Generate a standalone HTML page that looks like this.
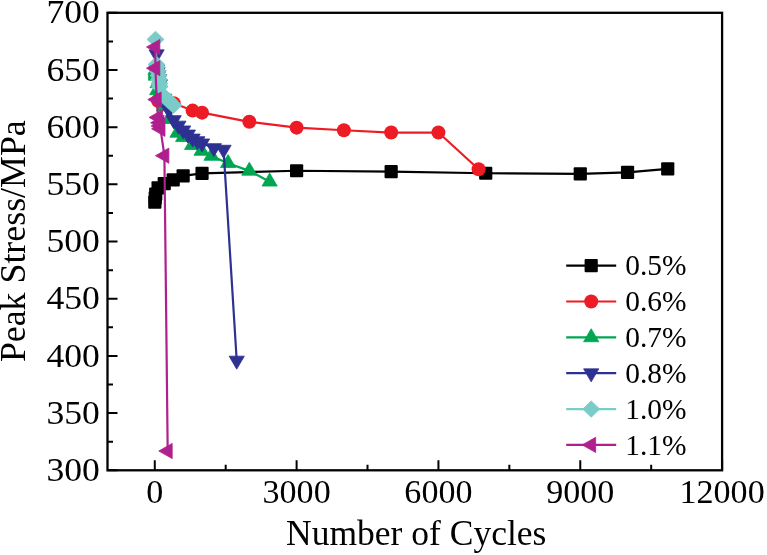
<!DOCTYPE html>
<html><head><meta charset="utf-8"><title>Peak Stress vs Number of Cycles</title>
<style>html,body{margin:0;padding:0;background:#fff;}body{width:767px;height:555px;overflow:hidden;font-family:"Liberation Serif",serif;}</style></head>
<body>
<svg width="767" height="555" viewBox="0 0 767 555" style="display:block;will-change:transform;opacity:0.999">
<rect width="767" height="555" fill="#ffffff"/>
<path d="M154.82,202.09 L155.25,198.09 L155.72,194.08 L158.09,187.79 L164.23,183.68 L173.21,179.90 L183.14,175.90 L202.05,173.38 L296.61,170.75 L391.16,171.55 L485.72,173.27 L580.27,173.95 L627.55,172.47 L667.73,168.92" fill="none" stroke="#000000" stroke-width="2.2" stroke-linejoin="round"/>
<rect x="148.22" y="195.49" width="13.2" height="13.2" rx="1" fill="#000000"/>
<rect x="148.65" y="191.49" width="13.2" height="13.2" rx="1" fill="#000000"/>
<rect x="149.12" y="187.48" width="13.2" height="13.2" rx="1" fill="#000000"/>
<rect x="151.49" y="181.19" width="13.2" height="13.2" rx="1" fill="#000000"/>
<rect x="157.63" y="177.08" width="13.2" height="13.2" rx="1" fill="#000000"/>
<rect x="166.61" y="173.30" width="13.2" height="13.2" rx="1" fill="#000000"/>
<rect x="176.54" y="169.30" width="13.2" height="13.2" rx="1" fill="#000000"/>
<rect x="195.45" y="166.78" width="13.2" height="13.2" rx="1" fill="#000000"/>
<rect x="290.01" y="164.15" width="13.2" height="13.2" rx="1" fill="#000000"/>
<rect x="384.56" y="164.95" width="13.2" height="13.2" rx="1" fill="#000000"/>
<rect x="479.12" y="166.67" width="13.2" height="13.2" rx="1" fill="#000000"/>
<rect x="573.67" y="167.35" width="13.2" height="13.2" rx="1" fill="#000000"/>
<rect x="620.95" y="165.87" width="13.2" height="13.2" rx="1" fill="#000000"/>
<rect x="661.13" y="162.32" width="13.2" height="13.2" rx="1" fill="#000000"/>
<path d="M158.00,100.80 L158.50,100.50 L159.50,99.72 L164.23,100.30 L173.69,103.16 L192.60,110.59 L202.05,112.65 L249.33,121.80 L296.61,127.63 L343.88,130.26 L391.16,132.55 L438.44,132.55 L478.62,169.26" fill="none" stroke="#ed1c24" stroke-width="2.2" stroke-linejoin="round"/>
<circle cx="158.00" cy="100.80" r="7" fill="#ed1c24"/>
<circle cx="158.50" cy="100.50" r="7" fill="#ed1c24"/>
<circle cx="159.50" cy="99.72" r="7" fill="#ed1c24"/>
<circle cx="164.23" cy="100.30" r="7" fill="#ed1c24"/>
<circle cx="173.69" cy="103.16" r="7" fill="#ed1c24"/>
<circle cx="192.60" cy="110.59" r="7" fill="#ed1c24"/>
<circle cx="202.05" cy="112.65" r="7" fill="#ed1c24"/>
<circle cx="249.33" cy="121.80" r="7" fill="#ed1c24"/>
<circle cx="296.61" cy="127.63" r="7" fill="#ed1c24"/>
<circle cx="343.88" cy="130.26" r="7" fill="#ed1c24"/>
<circle cx="391.16" cy="132.55" r="7" fill="#ed1c24"/>
<circle cx="438.44" cy="132.55" r="7" fill="#ed1c24"/>
<circle cx="478.62" cy="169.26" r="7" fill="#ed1c24"/>
<path d="M155.50,70.00 L155.60,72.00 L155.70,74.00 L155.80,75.80 L157.60,83.30 L157.20,90.30 L164.23,106.59 L168.96,119.17 L177.47,132.89 L183.14,137.24 L192.13,145.13 L201.58,150.96 L211.51,156.00 L228.06,163.20 L249.33,170.87 L269.66,181.73" fill="none" stroke="#00a651" stroke-width="2.2" stroke-linejoin="round"/>
<path d="M155.50,61.33 L163.10,74.33 L147.90,74.33Z" fill="#00a651" stroke="#00a651" stroke-width="0.8" stroke-linejoin="round"/>
<path d="M155.60,63.33 L163.20,76.33 L148.00,76.33Z" fill="#00a651" stroke="#00a651" stroke-width="0.8" stroke-linejoin="round"/>
<path d="M155.70,65.33 L163.30,78.33 L148.10,78.33Z" fill="#00a651" stroke="#00a651" stroke-width="0.8" stroke-linejoin="round"/>
<path d="M155.80,67.13 L163.40,80.13 L148.20,80.13Z" fill="#00a651" stroke="#00a651" stroke-width="0.8" stroke-linejoin="round"/>
<path d="M157.60,74.63 L165.20,87.63 L150.00,87.63Z" fill="#00a651" stroke="#00a651" stroke-width="0.8" stroke-linejoin="round"/>
<path d="M157.20,81.63 L164.80,94.63 L149.60,94.63Z" fill="#00a651" stroke="#00a651" stroke-width="0.8" stroke-linejoin="round"/>
<path d="M164.23,97.92 L171.83,110.92 L156.63,110.92Z" fill="#00a651" stroke="#00a651" stroke-width="0.8" stroke-linejoin="round"/>
<path d="M168.96,110.50 L176.56,123.50 L161.36,123.50Z" fill="#00a651" stroke="#00a651" stroke-width="0.8" stroke-linejoin="round"/>
<path d="M177.47,124.23 L185.07,137.23 L169.87,137.23Z" fill="#00a651" stroke="#00a651" stroke-width="0.8" stroke-linejoin="round"/>
<path d="M183.14,128.57 L190.74,141.57 L175.54,141.57Z" fill="#00a651" stroke="#00a651" stroke-width="0.8" stroke-linejoin="round"/>
<path d="M192.13,136.47 L199.73,149.47 L184.53,149.47Z" fill="#00a651" stroke="#00a651" stroke-width="0.8" stroke-linejoin="round"/>
<path d="M201.58,142.30 L209.18,155.30 L193.98,155.30Z" fill="#00a651" stroke="#00a651" stroke-width="0.8" stroke-linejoin="round"/>
<path d="M211.51,147.33 L219.11,160.33 L203.91,160.33Z" fill="#00a651" stroke="#00a651" stroke-width="0.8" stroke-linejoin="round"/>
<path d="M228.06,154.54 L235.66,167.54 L220.46,167.54Z" fill="#00a651" stroke="#00a651" stroke-width="0.8" stroke-linejoin="round"/>
<path d="M249.33,162.20 L256.93,175.20 L241.73,175.20Z" fill="#00a651" stroke="#00a651" stroke-width="0.8" stroke-linejoin="round"/>
<path d="M269.66,173.07 L277.26,186.07 L262.06,186.07Z" fill="#00a651" stroke="#00a651" stroke-width="0.8" stroke-linejoin="round"/>
<path d="M156.60,54.20 L157.00,69.50 L157.50,72.00 L158.50,75.00 L159.20,79.00 L160.00,84.00 L164.23,98.58 L168.96,110.02 L173.69,119.97 L178.42,125.46 L183.14,130.26 L187.87,134.38 L192.60,138.38 L197.33,141.01 L202.05,143.30 L213.87,147.99 L223.56,149.59 L236.71,360.50" fill="none" stroke="#2e3192" stroke-width="2.2" stroke-linejoin="round"/>
<path d="M156.60,62.87 L164.20,49.87 L149.00,49.87Z" fill="#2e3192" stroke="#2e3192" stroke-width="0.8" stroke-linejoin="round"/>
<path d="M157.00,78.17 L164.60,65.17 L149.40,65.17Z" fill="#2e3192" stroke="#2e3192" stroke-width="0.8" stroke-linejoin="round"/>
<path d="M157.50,80.67 L165.10,67.67 L149.90,67.67Z" fill="#2e3192" stroke="#2e3192" stroke-width="0.8" stroke-linejoin="round"/>
<path d="M158.50,83.67 L166.10,70.67 L150.90,70.67Z" fill="#2e3192" stroke="#2e3192" stroke-width="0.8" stroke-linejoin="round"/>
<path d="M159.20,87.67 L166.80,74.67 L151.60,74.67Z" fill="#2e3192" stroke="#2e3192" stroke-width="0.8" stroke-linejoin="round"/>
<path d="M160.00,92.67 L167.60,79.67 L152.40,79.67Z" fill="#2e3192" stroke="#2e3192" stroke-width="0.8" stroke-linejoin="round"/>
<path d="M164.23,107.25 L171.83,94.25 L156.63,94.25Z" fill="#2e3192" stroke="#2e3192" stroke-width="0.8" stroke-linejoin="round"/>
<path d="M168.96,118.69 L176.56,105.69 L161.36,105.69Z" fill="#2e3192" stroke="#2e3192" stroke-width="0.8" stroke-linejoin="round"/>
<path d="M173.69,128.64 L181.29,115.64 L166.09,115.64Z" fill="#2e3192" stroke="#2e3192" stroke-width="0.8" stroke-linejoin="round"/>
<path d="M178.42,134.13 L186.02,121.13 L170.82,121.13Z" fill="#2e3192" stroke="#2e3192" stroke-width="0.8" stroke-linejoin="round"/>
<path d="M183.14,138.93 L190.74,125.93 L175.54,125.93Z" fill="#2e3192" stroke="#2e3192" stroke-width="0.8" stroke-linejoin="round"/>
<path d="M187.87,143.05 L195.47,130.05 L180.27,130.05Z" fill="#2e3192" stroke="#2e3192" stroke-width="0.8" stroke-linejoin="round"/>
<path d="M192.60,147.05 L200.20,134.05 L185.00,134.05Z" fill="#2e3192" stroke="#2e3192" stroke-width="0.8" stroke-linejoin="round"/>
<path d="M197.33,149.68 L204.93,136.68 L189.73,136.68Z" fill="#2e3192" stroke="#2e3192" stroke-width="0.8" stroke-linejoin="round"/>
<path d="M202.05,151.97 L209.65,138.97 L194.45,138.97Z" fill="#2e3192" stroke="#2e3192" stroke-width="0.8" stroke-linejoin="round"/>
<path d="M213.87,156.66 L221.47,143.66 L206.27,143.66Z" fill="#2e3192" stroke="#2e3192" stroke-width="0.8" stroke-linejoin="round"/>
<path d="M223.56,158.26 L231.16,145.26 L215.96,145.26Z" fill="#2e3192" stroke="#2e3192" stroke-width="0.8" stroke-linejoin="round"/>
<path d="M236.71,369.17 L244.31,356.17 L229.11,356.17Z" fill="#2e3192" stroke="#2e3192" stroke-width="0.8" stroke-linejoin="round"/>
<path d="M155.50,39.40 L156.50,64.50 L156.80,67.00 L157.50,71.00 L158.50,75.60 L159.00,79.50 L159.40,83.40 L159.70,86.50 L164.50,96.80 L169.00,101.00 L173.40,105.20" fill="none" stroke="#7accc8" stroke-width="2.2" stroke-linejoin="round"/>
<path d="M155.50,31.20 L164.00,39.40 L155.50,47.60 L147.00,39.40Z" fill="#7accc8" stroke="#7accc8" stroke-width="0.8" stroke-linejoin="round"/>
<path d="M156.50,56.30 L165.00,64.50 L156.50,72.70 L148.00,64.50Z" fill="#7accc8" stroke="#7accc8" stroke-width="0.8" stroke-linejoin="round"/>
<path d="M156.80,58.80 L165.30,67.00 L156.80,75.20 L148.30,67.00Z" fill="#7accc8" stroke="#7accc8" stroke-width="0.8" stroke-linejoin="round"/>
<path d="M157.50,62.80 L166.00,71.00 L157.50,79.20 L149.00,71.00Z" fill="#7accc8" stroke="#7accc8" stroke-width="0.8" stroke-linejoin="round"/>
<path d="M158.50,67.40 L167.00,75.60 L158.50,83.80 L150.00,75.60Z" fill="#7accc8" stroke="#7accc8" stroke-width="0.8" stroke-linejoin="round"/>
<path d="M159.00,71.30 L167.50,79.50 L159.00,87.70 L150.50,79.50Z" fill="#7accc8" stroke="#7accc8" stroke-width="0.8" stroke-linejoin="round"/>
<path d="M159.40,75.20 L167.90,83.40 L159.40,91.60 L150.90,83.40Z" fill="#7accc8" stroke="#7accc8" stroke-width="0.8" stroke-linejoin="round"/>
<path d="M159.70,78.30 L168.20,86.50 L159.70,94.70 L151.20,86.50Z" fill="#7accc8" stroke="#7accc8" stroke-width="0.8" stroke-linejoin="round"/>
<path d="M164.50,88.60 L173.00,96.80 L164.50,105.00 L156.00,96.80Z" fill="#7accc8" stroke="#7accc8" stroke-width="0.8" stroke-linejoin="round"/>
<path d="M169.00,92.80 L177.50,101.00 L169.00,109.20 L160.50,101.00Z" fill="#7accc8" stroke="#7accc8" stroke-width="0.8" stroke-linejoin="round"/>
<path d="M173.40,97.00 L181.90,105.20 L173.40,113.40 L164.90,105.20Z" fill="#7accc8" stroke="#7accc8" stroke-width="0.8" stroke-linejoin="round"/>
<path d="M155.40,47.00 L155.40,68.20 L156.70,99.60 L158.00,117.40 L159.50,122.80 L160.00,126.00 L160.50,128.80 L164.40,155.70 L167.70,451.00" fill="none" stroke="#b01f8e" stroke-width="2.2" stroke-linejoin="round"/>
<path d="M146.47,47.00 L159.87,39.40 L159.87,54.60Z" fill="#b01f8e" stroke="#b01f8e" stroke-width="0.8" stroke-linejoin="round"/>
<path d="M146.47,68.20 L159.87,60.60 L159.87,75.80Z" fill="#b01f8e" stroke="#b01f8e" stroke-width="0.8" stroke-linejoin="round"/>
<path d="M147.77,99.60 L161.17,92.00 L161.17,107.20Z" fill="#b01f8e" stroke="#b01f8e" stroke-width="0.8" stroke-linejoin="round"/>
<path d="M149.07,117.40 L162.47,109.80 L162.47,125.00Z" fill="#b01f8e" stroke="#b01f8e" stroke-width="0.8" stroke-linejoin="round"/>
<path d="M150.57,122.80 L163.97,115.20 L163.97,130.40Z" fill="#b01f8e" stroke="#b01f8e" stroke-width="0.8" stroke-linejoin="round"/>
<path d="M151.07,126.00 L164.47,118.40 L164.47,133.60Z" fill="#b01f8e" stroke="#b01f8e" stroke-width="0.8" stroke-linejoin="round"/>
<path d="M151.57,128.80 L164.97,121.20 L164.97,136.40Z" fill="#b01f8e" stroke="#b01f8e" stroke-width="0.8" stroke-linejoin="round"/>
<path d="M155.47,155.70 L168.87,148.10 L168.87,163.30Z" fill="#b01f8e" stroke="#b01f8e" stroke-width="0.8" stroke-linejoin="round"/>
<path d="M158.77,451.00 L172.17,443.40 L172.17,458.60Z" fill="#b01f8e" stroke="#b01f8e" stroke-width="0.8" stroke-linejoin="round"/>
<rect x="107.5" y="12.8" width="614.60" height="457.50" fill="none" stroke="#000" stroke-width="2.3"/>
<path d="M107.5,470.30 h10 M107.5,441.71 h5.5 M107.5,413.11 h10 M107.5,384.52 h5.5 M107.5,355.93 h10 M107.5,327.33 h5.5 M107.5,298.74 h10 M107.5,270.14 h5.5 M107.5,241.55 h10 M107.5,212.96 h5.5 M107.5,184.36 h10 M107.5,155.77 h5.5 M107.5,127.17 h10 M107.5,98.58 h5.5 M107.5,69.99 h10 M107.5,41.39 h5.5 M107.5,12.80 h10 M154.78,470.3 v-10 M225.69,470.3 v-5.5 M296.61,470.3 v-10 M367.52,470.3 v-5.5 M438.44,470.3 v-10 M509.35,470.3 v-5.5 M580.27,470.3 v-10 M651.18,470.3 v-5.5 M722.10,470.3 v-10" stroke="#000" stroke-width="2" fill="none"/>
<g font-family="'Liberation Serif', serif" font-size="34.6" fill="#000">
<text x="46.4" y="480.90" textLength="53.46" lengthAdjust="spacingAndGlyphs">300</text>
<text x="46.4" y="423.71" textLength="53.46" lengthAdjust="spacingAndGlyphs">350</text>
<text x="46.4" y="366.53" textLength="53.46" lengthAdjust="spacingAndGlyphs">400</text>
<text x="46.4" y="309.34" textLength="53.46" lengthAdjust="spacingAndGlyphs">450</text>
<text x="46.4" y="252.15" textLength="53.46" lengthAdjust="spacingAndGlyphs">500</text>
<text x="46.4" y="194.96" textLength="53.46" lengthAdjust="spacingAndGlyphs">550</text>
<text x="46.4" y="137.78" textLength="53.46" lengthAdjust="spacingAndGlyphs">600</text>
<text x="46.4" y="80.59" textLength="53.46" lengthAdjust="spacingAndGlyphs">650</text>
<text x="46.4" y="23.40" textLength="53.46" lengthAdjust="spacingAndGlyphs">700</text>
<text x="146.26" y="502.6" textLength="17.04" lengthAdjust="spacingAndGlyphs">0</text>
<text x="262.53" y="502.6" textLength="68.16" lengthAdjust="spacingAndGlyphs">3000</text>
<text x="404.36" y="502.6" textLength="68.16" lengthAdjust="spacingAndGlyphs">6000</text>
<text x="546.19" y="502.6" textLength="68.16" lengthAdjust="spacingAndGlyphs">9000</text>
<text x="679.50" y="502.6" textLength="85.20" lengthAdjust="spacingAndGlyphs">12000</text>
</g>
<text x="416.2" y="545" text-anchor="middle" font-family="'Liberation Serif', serif" font-size="35.5" fill="#000">Number of Cycles</text>
<text transform="translate(25.3,241.2) rotate(-90)" text-anchor="middle" font-family="'Liberation Serif', serif" font-size="35.85" fill="#000">Peak Stress/MPa</text>
<path d="M566.2,265.6 H616.2" stroke="#000000" stroke-width="2.2"/>
<rect x="584.60" y="259.00" width="13.2" height="13.2" rx="1" fill="#000000"/>
<text x="625.2" y="275.20" font-family="'Liberation Serif', serif" font-size="29.8" textLength="61.3" lengthAdjust="spacingAndGlyphs" fill="#000">0.5%</text>
<path d="M566.2,301.5 H616.2" stroke="#ed1c24" stroke-width="2.2"/>
<circle cx="591.20" cy="301.50" r="7" fill="#ed1c24"/>
<text x="625.2" y="311.10" font-family="'Liberation Serif', serif" font-size="29.8" textLength="61.3" lengthAdjust="spacingAndGlyphs" fill="#000">0.6%</text>
<path d="M566.2,337.4 H616.2" stroke="#00a651" stroke-width="2.2"/>
<path d="M591.20,328.73 L598.80,341.73 L583.60,341.73Z" fill="#00a651" stroke="#00a651" stroke-width="0.8" stroke-linejoin="round"/>
<text x="625.2" y="347.00" font-family="'Liberation Serif', serif" font-size="29.8" textLength="61.3" lengthAdjust="spacingAndGlyphs" fill="#000">0.7%</text>
<path d="M566.2,373.2 H616.2" stroke="#2e3192" stroke-width="2.2"/>
<path d="M591.20,381.87 L598.80,368.87 L583.60,368.87Z" fill="#2e3192" stroke="#2e3192" stroke-width="0.8" stroke-linejoin="round"/>
<text x="625.2" y="382.80" font-family="'Liberation Serif', serif" font-size="29.8" textLength="61.3" lengthAdjust="spacingAndGlyphs" fill="#000">0.8%</text>
<path d="M566.2,409.1 H616.2" stroke="#7accc8" stroke-width="2.2"/>
<path d="M591.20,400.90 L599.70,409.10 L591.20,417.30 L582.70,409.10Z" fill="#7accc8" stroke="#7accc8" stroke-width="0.8" stroke-linejoin="round"/>
<text x="625.2" y="418.70" font-family="'Liberation Serif', serif" font-size="29.8" textLength="61.3" lengthAdjust="spacingAndGlyphs" fill="#000">1.0%</text>
<path d="M566.2,444.9 H616.2" stroke="#b01f8e" stroke-width="2.2"/>
<path d="M582.27,444.90 L595.67,437.30 L595.67,452.50Z" fill="#b01f8e" stroke="#b01f8e" stroke-width="0.8" stroke-linejoin="round"/>
<text x="625.2" y="454.50" font-family="'Liberation Serif', serif" font-size="29.8" textLength="61.3" lengthAdjust="spacingAndGlyphs" fill="#000">1.1%</text>
</svg>
</body></html>
